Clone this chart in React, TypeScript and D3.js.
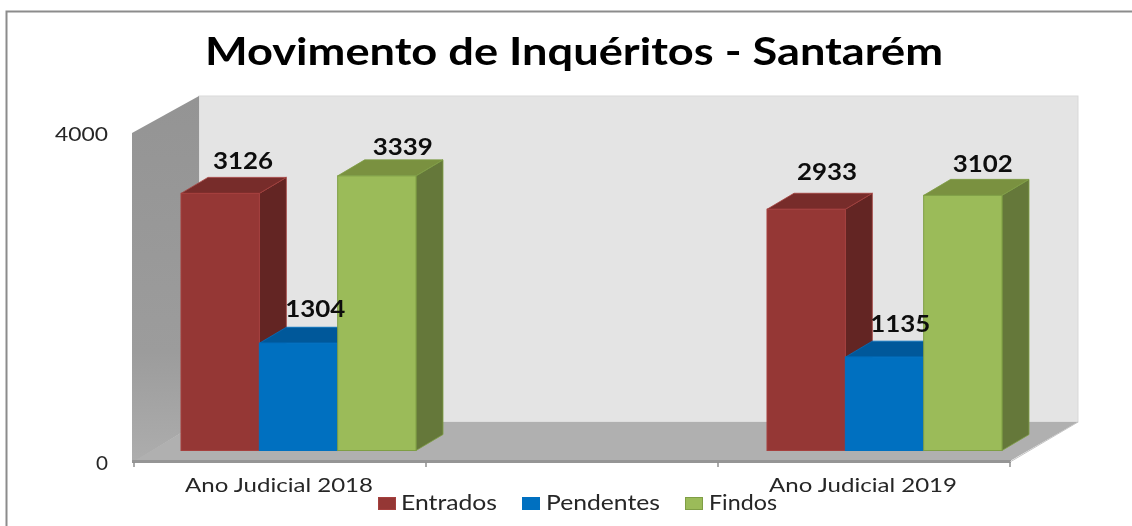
import React from "react";
import * as d3 from "d3";

const categories = ["Ano Judicial 2018", "", "Ano Judicial 2019"];
const seriesNames = ["Entrados", "Pendentes", "Findos"];
const entrados = [3126, null, 2933];
const pendentes = [1304, null, 1135];
const findos = [3339, null, 3102];
const valueTicks = [0, 4000];
const titleText = "Movimento de Inquéritos - Santarém";

const seriesValues = [entrados, pendentes, findos];
const palette = [
  { front: "#953735", top: "#772c2a", side: "#632523", edge: "#a5403e" },
  { front: "#0070c0", top: "#00589a", side: "#004a80", edge: "#0070c0" },
  { front: "#9bbb59", top: "#7a9140", side: "#65783a", edge: "#7f9e45" },
];
// Small hand placement of each data label relative to its bar's front face.
const labelNudge = [
  [{ dx: 62, dy: -24 }, null, { dx: 60, dy: -29 }],
  [{ dx: 56, dy: -26 }, null, { dx: 55, dy: -25 }],
  [{ dx: 65, dy: -21 }, null, { dx: 59, dy: -23 }],
];

const FONT = "Lato, 'Open Sans', sans-serif";
const depth = { dx: 27, dy: -16 };

const y = d3.scaleLinear().domain([0, 4000]).range([450.5, 121.5]);
const axisOffsetY = 12;
const xAxis = d3.scaleBand().domain(categories.map((_, i) => String(i))).range([134, 1010]).padding(0);
const xGroup = d3.scaleBand().domain(categories.map((_, i) => String(i))).range([181, 1060]).padding(0);
const xSeries = d3.scaleBand().domain(seriesNames).range([0, 235]).padding(0);

const poly = (pts: number[][]) => pts.map((p) => p.join(",")).join(" ");

const legendItems = [
  { swatch: 378, text: 401, width: 96 },
  { swatch: 522, text: 546, width: 114 },
  { swatch: 685, text: 709, width: 68 },
];

export default function App() {
  const base = xAxis.bandwidth();
  const tickXs = categories.map((_, i) => xAxis(String(i)) as number).concat((xAxis(String(categories.length - 1)) as number) + base);
  return (
    <svg width={1132} height={526} viewBox="0 0 1132 526" style={{ position: "fixed", left: 0, top: 0, display: "block", background: "#fff" }}>
      <defs>
        <linearGradient id="wallGrad" x1="0" y1="0" x2="0" y2="1">
          <stop offset="0" stopColor="#949494" />
          <stop offset="0.7" stopColor="#9c9c9c" />
          <stop offset="1" stopColor="#adadad" />
        </linearGradient>
        <filter id="soft"><feGaussianBlur stdDeviation="0.4" /></filter>
      </defs>

      <path d="M6.5 526V11.5H1132" fill="none" stroke="#8c8c8c" strokeWidth={2} />

      <text x={574} y={65} textAnchor="middle" fontFamily={FONT} fontWeight={700} fontSize={38} fill="#050505" textLength={738} lengthAdjust="spacingAndGlyphs" filter="url(#soft)">{titleText}</text>

      <rect x={199} y={96} width={879} height={326} fill="#e4e4e4" stroke="#d9d9d9" strokeWidth={1} />
      <polygon points={poly([[132, 133], [199, 96], [199, 422], [134, 462], [132, 462]])} fill="url(#wallGrad)" />
      <polygon points={poly([[134, 461], [1010, 461], [1078, 422], [199, 422]])} fill="#b0b0b0" />
      <line x1={132} x2={1011} y1={461.5} y2={461.5} stroke="#959595" strokeWidth={3} />
      <line x1={1010} x2={1078} y1={462} y2={422} stroke="#c4c4c4" strokeWidth={1} />

      {tickXs.map((tx, i) => (
        <line key={i} x1={tx} x2={tx} y1={462} y2={467} stroke="#8f8f8f" strokeWidth={1.5} />
      ))}

      {valueTicks.map((v) => (
        <text key={v} x={108} y={y(v) + axisOffsetY + 7} textAnchor="end" fontFamily={FONT} fontSize={20} fill="#262626" textLength={v === 0 ? 12 : 53} lengthAdjust="spacingAndGlyphs" filter="url(#soft)">{v}</text>
      ))}

      {categories.map((_, ci) => {
        const gx = xGroup(String(ci)) as number;
        return seriesValues.map((vals, si) => {
          const v = vals[ci];
          if (v == null) return null;
          const c = palette[si];
          const x0 = gx + (xSeries(seriesNames[si]) as number);
          const w = xSeries.bandwidth();
          const x1 = x0 + w;
          const yT = y(v);
          const yB = y(0);
          const { dx, dy } = depth;
          return (
            <g key={`${ci}-${si}`}>
              <polygon points={poly([[x1, yT], [x1 + dx, yT + dy], [x1 + dx, yB + dy], [x1, yB]])} fill={c.side} stroke={c.edge} strokeWidth={0.8} />
              <polygon points={poly([[x0, yT], [x0 + dx, yT + dy], [x1 + dx, yT + dy], [x1, yT]])} fill={c.top} stroke={c.edge} strokeWidth={0.8} />
              <rect x={x0} y={yT} width={w} height={yB - yT} fill={c.front} stroke={c.edge} strokeWidth={1} />
            </g>
          );
        });
      })}

      {categories.map((_, ci) => {
        const gx = xGroup(String(ci)) as number;
        return seriesValues.map((vals, si) => {
          const v = vals[ci];
          const n = labelNudge[si][ci];
          if (v == null || !n) return null;
          const x0 = gx + (xSeries(seriesNames[si]) as number);
          return (
            <text key={`l${ci}-${si}`} x={x0 + n.dx} y={y(v) + n.dy} textAnchor="middle" fontFamily={FONT} fontWeight={700} fontSize={22} fill="#0a0a0a" textLength={60} lengthAdjust="spacingAndGlyphs" filter="url(#soft)">{v}</text>
          );
        });
      })}

      {categories.map((cat, i) => cat ? (
        <text key={cat} x={(xAxis(String(i)) as number) + base / 2 - 1} y={492} textAnchor="middle" fontFamily={FONT} fontSize={20} fill="#262626" textLength={188} lengthAdjust="spacingAndGlyphs" filter="url(#soft)">{cat}</text>
      ) : null)}

      {seriesNames.map((name, i) => (
        <g key={name}>
          <rect x={legendItems[i].swatch + 0.5} y={497.5} width={17} height={12} fill={palette[i].front} stroke={palette[i].edge} strokeWidth={1} />
          <text x={legendItems[i].text} y={510} fontFamily={FONT} fontSize={20.5} fill="#262626" textLength={legendItems[i].width} lengthAdjust="spacingAndGlyphs" filter="url(#soft)">{name}</text>
        </g>
      ))}
    </svg>
  );
}
